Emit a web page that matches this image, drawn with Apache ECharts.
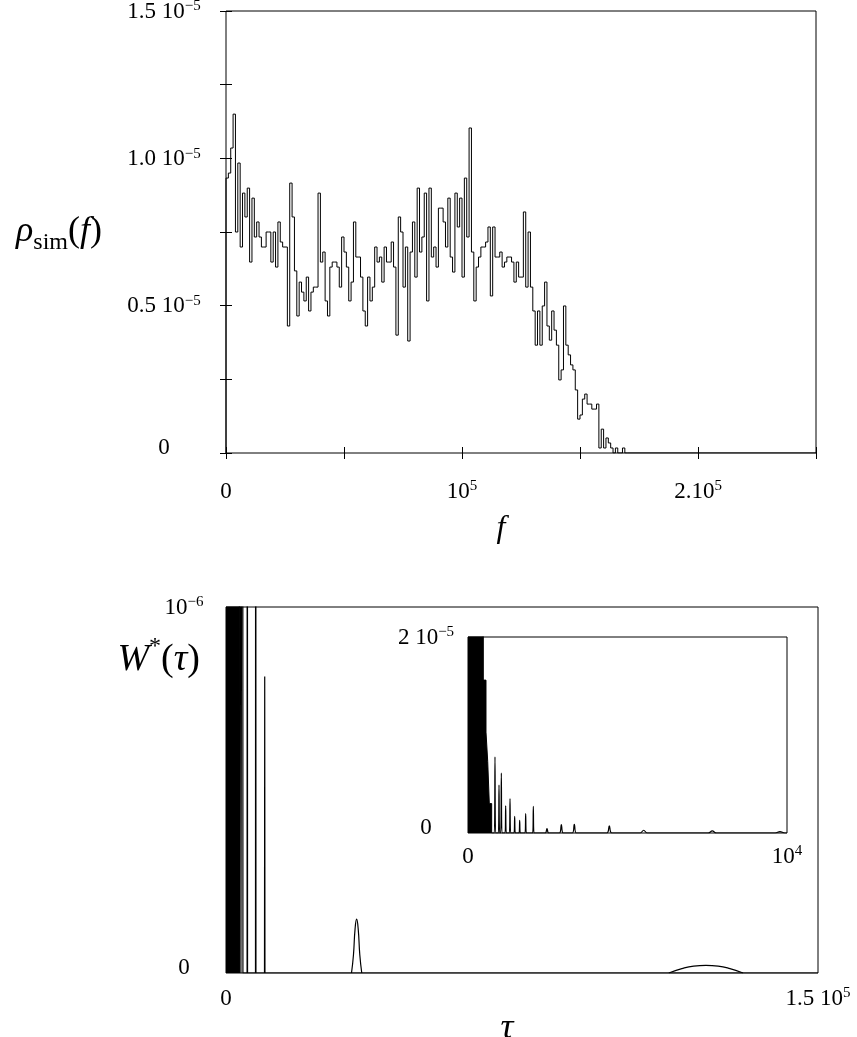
<!DOCTYPE html>
<html>
<head>
<meta charset="utf-8">
<script src="https://cdn.jsdelivr.net/npm/echarts@6.0.0/dist/echarts.min.js"></script>
<style>
  html, body { margin: 0; padding: 0; background: #fff; }
  #chart { width: 857px; height: 1037px; }
</style>
</head>
<body>
<div id="chart"></div>
<script>
// ---- top panel: histogram rho_sim(f), bins of width 1000 starting at f = 0 (values in 1e-5)
const fBinStart = 0
const fBinWidth = 1000
const rhoUnit = 1e-5
const rhoSim = [
  0.933, 0.950, 1.035, 1.150, 0.750, 0.984, 0.699, 0.882, 0.801, 0.899,
  0.648, 0.865, 0.733, 0.784, 0.733, 0.699, 0.699, 0.750, 0.750, 0.648,
  0.750, 0.631, 0.784, 0.716, 0.699, 0.699, 0.431, 0.916, 0.801, 0.618,
  0.465, 0.580, 0.546, 0.516, 0.597, 0.482, 0.546, 0.563, 0.563, 0.882,
  0.648, 0.682, 0.516, 0.465, 0.631, 0.648, 0.648, 0.631, 0.563, 0.733,
  0.682, 0.631, 0.516, 0.580, 0.784, 0.665, 0.665, 0.597, 0.482, 0.431,
  0.597, 0.516, 0.563, 0.699, 0.648, 0.665, 0.580, 0.699, 0.648, 0.648,
  0.716, 0.631, 0.400, 0.801, 0.750, 0.563, 0.699, 0.380, 0.682, 0.784,
  0.597, 0.899, 0.682, 0.733, 0.882, 0.516, 0.899, 0.665, 0.699, 0.631,
  0.831, 0.831, 0.784, 0.699, 0.865, 0.665, 0.614, 0.882, 0.767, 0.865,
  0.597, 0.933, 0.733, 1.103, 0.682, 0.516, 0.631, 0.665, 0.699, 0.699,
  0.716, 0.767, 0.533, 0.767, 0.665, 0.665, 0.682, 0.631, 0.648, 0.665,
  0.665, 0.648, 0.580, 0.648, 0.597, 0.597, 0.818, 0.563, 0.750, 0.563,
  0.482, 0.366, 0.482, 0.366, 0.499, 0.580, 0.431, 0.383, 0.482, 0.417,
  0.366, 0.248, 0.282, 0.499, 0.366, 0.333, 0.299, 0.282, 0.214, 0.115,
  0.129, 0.183, 0.200, 0.166, 0.166, 0.149, 0.149, 0.166, 0.017, 0.081,
  0.017, 0.051, 0.034, 0.017, 0, 0.017, 0, 0, 0.017, 0
]
const fMax = 250000

// ---- bottom panel: W*(tau)
const wBandEnd = 3370          // solid black band of dense oscillations from tau = 0
const wBandTop = 5e-6          // band runs off the top of the frame
const wPeakTau = [3720, 4230, 5400, 7530, 9810]
const wPeakVal = [3e-6, 3e-6, 3e-6, 3e-6, 0.81e-6]
const wPeakHalf = [60, 60, 60, 60, 60]
const bumpATau = [31800, 32300, 32700, 33100, 33500, 33900, 34400]
const bumpAVal = [0, 0.05e-6, 0.12e-6, 0.147e-6, 0.12e-6, 0.05e-6, 0]
const bumpBTau = [112200, 115500, 118500, 121600, 124700, 127700, 131000]
const bumpBVal = [0, 0.012e-6, 0.019e-6, 0.021e-6, 0.019e-6, 0.012e-6, 0]
const tauMax = 150000

// ---- inset: W*(tau) for tau < 1e4 (values in 1e-5)
const inBandTau = [0, 480, 564, 618, 668, 742]
const inBandVal = [5, 1.56, 1.03, 0.73, 0.30, 0]
const inPeakTau = [846, 972, 1045, 1181, 1317, 1463, 1620, 1808, 2048, 2476, 2926, 3333, 4430, 5507, 7658, 9780]
const inPeakVal = [0.777, 0.488, 0.61, 0.276, 0.352, 0.171, 0.130, 0.198, 0.273, 0.045, 0.086, 0.089, 0.072, 0.028, 0.021, 0.015]
const inPeakHalf = [20, 20, 20, 20, 20, 20, 20, 20, 20, 55, 60, 65, 80, 110, 130, 150]
const inTauMax = 10000

const serif = 'Liberation Serif'
const rich = {
  n: { fontFamily: serif, fontSize: 23, color: '#000', lineHeight: 24, verticalAlign: 'bottom' },
  z: { fontFamily: serif, fontSize: 23, color: '#000', lineHeight: 24, padding: [0, 0, 10, 0] },
  sup: { fontFamily: serif, fontSize: 15, color: '#000', lineHeight: 18, verticalAlign: 'top' }
}

// 直方图 -> 阶梯线
const histData = [[fBinStart, 0]]
rhoSim.forEach((v, i) => histData.push([fBinStart + i * fBinWidth, v * rhoUnit]))
histData.push([fBinStart + rhoSim.length * fBinWidth, 0])
histData.push([fMax, 0])

// 主图尖峰
const peakData = [[wBandEnd, 0]]
wPeakTau.forEach((t, i) => {
  peakData.push([t - wPeakHalf[i], 0], [t, wPeakVal[i]], [t + wPeakHalf[i], 0])
})
peakData.push([tauMax, 0])

const inPeakData = [[inBandTau[inBandTau.length - 1], 0]]
inPeakTau.forEach((t, i) => {
  inPeakData.push([t - inPeakHalf[i], 0], [t, inPeakVal[i] * rhoUnit], [t + inPeakHalf[i], 0])
})
inPeakData.push([inTauMax, 0])

const chart = echarts.init(document.getElementById('chart'))

const frame = {
  show: true, borderColor: '#000', borderWidth: 1, backgroundColor: '#fff',
  containLabel: false, outerBoundsMode: 'none'
}
const noLine = { show: false }
const inTick = { show: true, inside: true, length: 6, lineStyle: { color: '#000', width: 1 } }

chart.setOption({
  animation: false,
  grid: [
    { left: 226, top: 11, width: 590, height: 442, ...frame },
    { left: 226, top: 607, width: 592, height: 366, ...frame },
    { left: 468, top: 637, width: 319, height: 196, ...frame }
  ],
  xAxis: [
    {
      type: 'value', gridIndex: 0, min: 0, max: fMax, interval: 50000,
      axisLine: noLine, axisTick: inTick, splitLine: noLine,
      axisLabel: {
        margin: 26, rich,
        formatter: v => v === 0 ? '{n|0}' : v === 100000 ? '{n|10}{sup|5}' : v === 200000 ? '{n|2.10}{sup|5}' : ''
      },
      name: 'f', nameLocation: 'middle', nameGap: 60,
      nameTextStyle: { fontFamily: serif, fontStyle: 'italic', fontSize: 32, color: '#000', padding: [0, 40, 0, 0] }
    },
    {
      type: 'value', gridIndex: 0, position: 'top', min: 0, max: fMax, interval: 50000,
      axisLine: noLine, axisTick: inTick, axisLabel: noLine, splitLine: noLine
    },
    {
      type: 'value', gridIndex: 1, min: 0, max: tauMax, interval: tauMax,
      axisLine: noLine, axisTick: noLine, splitLine: noLine,
      axisLabel: {
        margin: 13, rich,
        formatter: v => v === 0 ? '{n|0}' : '{n|1.5 10}{sup|5}'
      },
      name: 'τ', nameLocation: 'middle', nameGap: 17,
      nameTextStyle: { fontFamily: serif, fontStyle: 'italic', fontSize: 36, color: '#000', padding: [0, 30, 0, 0] }
    },
    {
      type: 'value', gridIndex: 2, min: 0, max: inTauMax, interval: inTauMax,
      axisLine: noLine, axisTick: noLine, splitLine: noLine,
      axisLabel: {
        margin: 11, rich,
        formatter: v => v === 0 ? '{n|0}' : '{n|10}{sup|4}'
      }
    }
  ],
  yAxis: [
    {
      type: 'value', gridIndex: 0, min: 0, max: 1.5e-5, interval: 0.25e-5,
      axisLine: noLine, axisTick: inTick, splitLine: noLine,
      axisLabel: {
        margin: 62, align: 'center', rich,
        formatter: v => {
          const k = Math.round(v / 0.25e-5)
          if (k === 0) return '{z|0}'
          if (k % 2) return ''
          return '{n|' + (k / 4).toFixed(1) + ' 10}{sup|−5}'
        }
      },
      name: '{i|ρ}{s|sim}{p|(}{i|f}{p|)}', nameLocation: 'middle', nameRotate: 0, nameGap: 124,
      nameTextStyle: {
        rich: {
          i: { fontFamily: serif, fontStyle: 'italic', fontSize: 36, color: '#000', lineHeight: 46, verticalAlign: 'middle' },
          p: { fontFamily: serif, fontSize: 36, color: '#000', lineHeight: 46, verticalAlign: 'middle' },
          s: { fontFamily: serif, fontSize: 24, color: '#000', lineHeight: 24, verticalAlign: 'bottom' }
        }
      }
    },
    {
      type: 'value', gridIndex: 0, position: 'right', min: 0, max: 1.5e-5, interval: 0.25e-5,
      axisLine: noLine, axisTick: inTick, axisLabel: noLine, splitLine: noLine
    },
    {
      type: 'value', gridIndex: 1, min: 0, max: 1e-6, interval: 1e-6,
      axisLine: noLine, axisTick: noLine, splitLine: noLine,
      axisLabel: {
        margin: 42, align: 'center', rich,
        formatter: v => v === 0 ? '{z|0}' : '{n|10}{sup|−6}'
      },
      name: '{i|W}{sup|*}{p|(}{i|τ}{p|)}', nameLocation: 'end', nameGap: -72,
      nameTextStyle: {
        align: 'right', padding: [0, 26, 0, 0],
        rich: {
          i: { fontFamily: serif, fontStyle: 'italic', fontSize: 38, color: '#000', lineHeight: 44, verticalAlign: 'bottom' },
          p: { fontFamily: serif, fontSize: 38, color: '#000', lineHeight: 44, verticalAlign: 'bottom' },
          sup: { fontFamily: serif, fontSize: 24, color: '#000', lineHeight: 24, verticalAlign: 'top' }
        }
      }
    },
    {
      type: 'value', gridIndex: 2, min: 0, max: 2e-5, interval: 2e-5,
      axisLine: noLine, axisTick: noLine, splitLine: noLine,
      axisLabel: {
        margin: 42, align: 'center', rich,
        formatter: v => v === 0 ? '{z|0}' : '{n|2 10}{sup|−5}'
      }
    }
  ],
  series: [
    {
      type: 'line', xAxisIndex: 0, yAxisIndex: 0, step: 'end', symbol: 'none',
      data: histData, lineStyle: { color: '#000', width: 1 }
    },
    {
      type: 'line', xAxisIndex: 2, yAxisIndex: 2, symbol: 'none',
      data: [[0, wBandTop], [wBandEnd, wBandTop], [wBandEnd, 0]],
      lineStyle: { color: '#000', width: 1 }, areaStyle: { color: '#000', opacity: 1 }
    },
    {
      type: 'line', xAxisIndex: 2, yAxisIndex: 2, symbol: 'none',
      data: peakData, lineStyle: { color: '#000', width: 1.2 }
    },
    {
      type: 'line', xAxisIndex: 2, yAxisIndex: 2, symbol: 'none', smooth: true,
      data: bumpATau.map((t, i) => [t, bumpAVal[i]]), lineStyle: { color: '#000', width: 1.2 }
    },
    {
      type: 'line', xAxisIndex: 2, yAxisIndex: 2, symbol: 'none', smooth: true,
      data: bumpBTau.map((t, i) => [t, bumpBVal[i]]), lineStyle: { color: '#000', width: 1.2 }
    },
    {
      type: 'line', xAxisIndex: 3, yAxisIndex: 3, symbol: 'none', step: 'end',
      data: inBandTau.map((t, i) => [t, inBandVal[i] * rhoUnit]),
      lineStyle: { color: '#000', width: 1 }, areaStyle: { color: '#000', opacity: 1 }
    },
    {
      type: 'line', xAxisIndex: 3, yAxisIndex: 3, symbol: 'none', smooth: 0.4,
      data: inPeakData, lineStyle: { color: '#000', width: 1.2 }
    }
  ]
})
</script>
</body>
</html>
